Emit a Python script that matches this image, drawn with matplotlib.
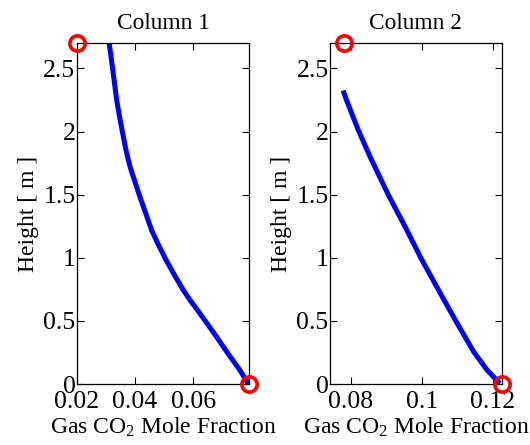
import numpy as np
import matplotlib.pyplot as plt

plt.rcParams['font.family'] = ['Liberation Serif', 'DejaVu Serif']
plt.rcParams['mathtext.fontset'] = 'custom'
plt.rcParams['mathtext.rm'] = 'Liberation Serif'
plt.rcParams['mathtext.it'] = 'Liberation Serif:italic'

# column 1 profile: gas CO2 mole fraction vs height
h1 = [2.70, 2.498, 2.247, 2.089, 1.957, 1.851, 1.719, 1.614, 1.495, 1.377,
      1.218, 1.100, 0.981, 0.849, 0.744, 0.665, 0.559, 0.401, 0.243, 0.111,
      0.018, 0.0]
y1 = [0.0311, 0.0323, 0.0337, 0.0349, 0.0360, 0.0369, 0.0383, 0.0398,
      0.0415, 0.0433, 0.0457, 0.0481, 0.0507, 0.0539, 0.0566, 0.0589,
      0.0623, 0.0672, 0.0719, 0.0760, 0.0785, 0.0789]
# column 1 boundary values (top and bottom)
bc1_y = [0.020, 0.0790]
bc1_h = [2.7, 0.0]

# column 2 profile
h2 = [2.325, 2.246, 2.01, 1.80, 1.495, 1.245, 0.994, 0.744, 0.493,
      0.256, 0.11, 0.005]
y2 = [0.0778, 0.0788, 0.0821, 0.0854, 0.0906, 0.0953, 0.0998, 0.1047,
      0.1097, 0.1146, 0.1184, 0.1220]
bc2_y = [0.0780, 0.1225]
bc2_h = [2.7, 0.0]

fig = plt.figure(figsize=(5.3, 4.45), dpi=100)
ax1 = fig.add_axes([0.145, 0.137, 0.325, 0.766])
ax2 = fig.add_axes([0.6226, 0.137, 0.324, 0.766])

panels = [
    (ax1, y1, h1, bc1_y, bc1_h, (0.02, 0.0792), [0.02, 0.04, 0.06],
     ['0.02', '0.04', '0.06'], 'Column 1'),
    (ax2, y2, h2, bc2_y, bc2_h, (0.0741, 0.1225), [0.08, 0.1, 0.12],
     ['0.08', '0.1', '0.12'], 'Column 2'),
]

for ax, x, h, bx, bh, xl, xt, xtl, title in panels:
    ax.plot(x, h, color='#0000ff', lw=3.6, solid_capstyle='butt')
    ax.plot(bx, bh, 'o', ms=11, mfc='none', mec='#ff0000', mew=2.6,
            clip_on=False, zorder=5)
    ax.set_xlim(*xl)
    ax.set_ylim(0, 2.7)
    ax.set_xticks(xt)
    ax.set_xticklabels(xtl)
    ax.set_yticks([0, 0.5, 1, 1.5, 2, 2.5])
    ax.set_yticklabels(['0', '0.5', '1', '1.5', '2', '2.5'])
    ax.tick_params(direction='in', top=True, right=True, length=5,
                   width=0.8, labelsize=18.5)
    ax.tick_params(axis='y', pad=1)
    ax.tick_params(axis='x', pad=5)
    ax.set_xlabel('Gas CO$_2$ Mole Fraction', fontsize=17, labelpad=2)
    ax.set_ylabel('Height [ m ]', fontsize=17, labelpad=3)
    ax.set_title(title, fontsize=16.8, pad=10)
    for s in ax.spines.values():
        s.set_linewidth(0.9)

fig.savefig('out.png', dpi=100)
